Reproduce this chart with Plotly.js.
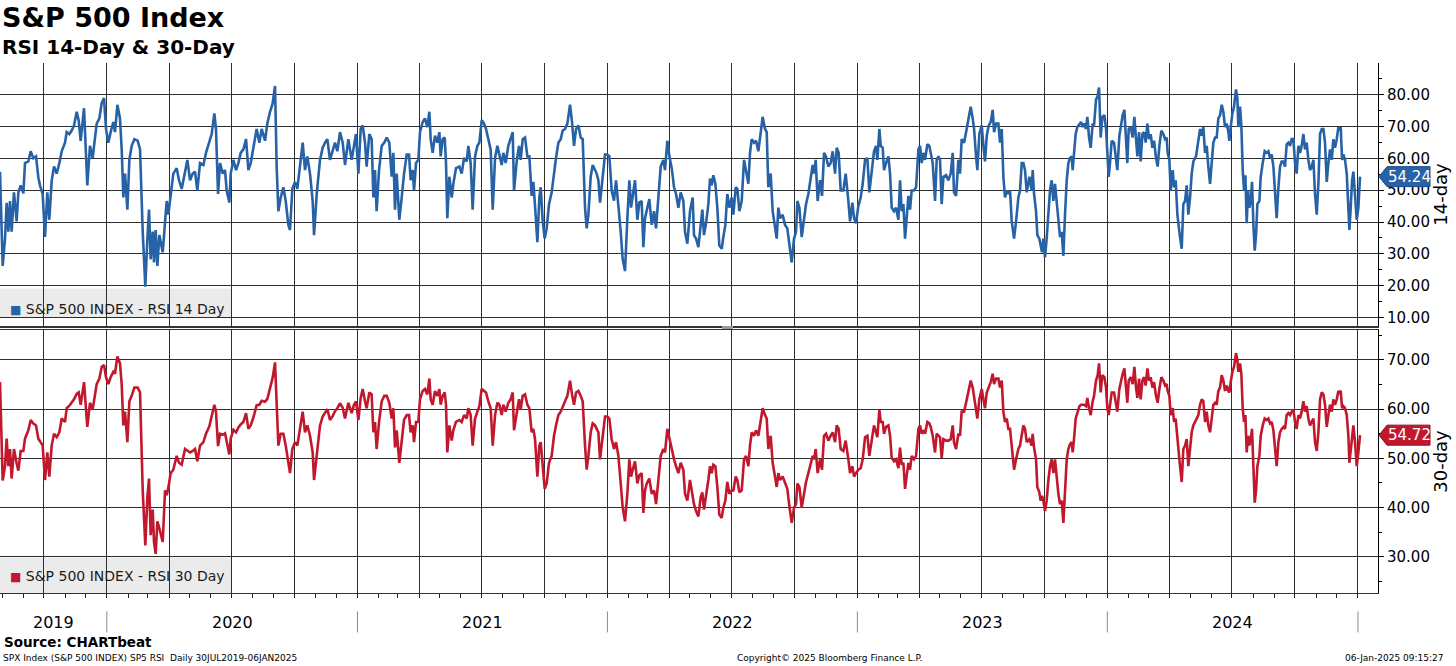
<!DOCTYPE html>
<html><head><meta charset="utf-8">
<script src="https://cdn.plot.ly/plotly-3.0.1.min.js"></script>
<style>html,body{margin:0;padding:0;background:#fff;}#chart{width:1456px;height:666px;}</style>
</head><body><div id="chart"></div>
<script>
// Reading dates, as days after 29 Jul 2019
const days = [
0,3.9,7.3,9.7,12.2,14.6,17,20.4,24.3,26.8,30.2,34.1,36.5,41.4,44.8,48.7,52.6,56,58.4,62.3,65.7,69.1,72,75.5,78.9,82.8,86.7,90.1,94.9,97.4,101.3,104.7,108.1,112,114.9,117.8,122.7,127.5,131.4,135.3,141.2,145.1,148.5,151.9,154.8,158.2,161.6,165.5,167.9,171.4,175.2,177.7,180.1,182.6,186,188.9,192.3,196.2,201,204.5,208.4,212.2,215.2,217.6,220,223,224.9,227.3,229.8,232.7,237.6,241,243.4,245.8,249.2,253.1,258,261.4,265.3,270.2,273.6,277.5,281.4,284.8,288.2,292.1,297,300.8,305.7,309.1,313,315.4,318.4,321.3,325.2,328.6,331,334.9,336.9,340.8,344.7,348.1,351.5,355.4,359.3,362.7,366.1,370,374.8,378.7,382.1,387,390.4,394.3,398.2,401.6,404,406.5,409.9,413.8,417.2,421.1,423.5,426.9,430.8,434.2,438.1,442,445.4,448.8,452.7,456.6,458.6,462.5,467.3,471.2,474.6,478,481.9,485.8,489.2,492.6,496.5,500.4,503.8,508.7,
513.5,516.9,519.9,523.3,526.7,529.6,533,535.4,539.3,542.7,545.2,547.6,550,553.5,557.4,561.2,564.7,568.5,572,574.4,576.8,579.3,583.1,586.6,590,593.9,597.3,599.7,602.6,604.6,607.5,610.9,613.3,617.2,620.6,624,627,628.9,631.8,635.2,638.6,641.6,643.5,646.4,649.4,651.3,653.2,656.2,659.6,662,665.9,670.8,674.2,677.6,681.5,683.9,687.3,690.2,693.7,697.1,700,703.4,706.8,709.7,713.1,716.5,719.5,722.9,726.3,729.2,732.6,735,738.4,742.3,745.7,748.7,750.6,754.5,757.9,760.3,763.3,766.7,770.1,773,776.4,778.8,781.3,784.7,787.6,789.6,792.5,795.4,798.3,801.7,805.6,809,811.9,815.4,818.8,821.7,825.1,828.5,832.4,835.3,838.2,841.2,844.6,848,850.9,854.3,856.7,859.2,862.6,865.5,868.9,871.3,873.8,876.2,880.1,883.5,886.9,889.8,893.2,896.6,899.6,903,906.4,909.3,912.7,916.1,919,921.5,923.9,927.3,930.7,933.6,937,939.5,941.9,944.4,948.2,951.7,955.1,958,961.4,964.8,968.7,971.1,974.5,977.5,980.9,984.3,987.2,990.6,994,997.9,1000.3,1003.7,1007.6,
1011.5,1013.4,1016.4,1019.8,1023.2,1025.6,1028,1031,1034.4,1036.8,1039.2,1041.7,1044.6,1047.5,1050.4,1053.9,1056.3,1059.2,1062.1,1065,1068.5,1070.9,1074.3,1076.7,1079.7,1083.1,1086.5,1089.4,1092.8,1095.2,1097.7,1101.1,1104,1107.4,1110.8,1113.7,1117.1,1119.6,1122,1125.4,1128.3,1131.7,1134.2,1136.6,1139,1142.9,1146.3,1149.7,1152.7,1156.1,1159.5,1162.4,1164.4,1167.3,1170.7,1174.1,1177,1180.4,1183.8,1186.7,1188.7,1191.1,1194,1197.5,1200.4,1203.3,1206.2,1209.6,1213,1216,1219.4,1221.8,1224.7,1227.6,1231.5,1234.9,1238.8,1241.3,1244.7,1247.1,1250,1253.4,1256.8,1259.8,1263.2,1266.6,1269.5,1272.9,1276.3,1279.2,1281.2,1284.1,1286.1,1289,1290.9,1293.8,1297.3,1299.7,1302.1,1305.5,1308.5,1311.9,1314.3,1316.7,1319.2,1321.6,1324,1326.5,1328.9,1331.3,1334.7,1337.7,1341.1,1343.5,1345.9,1348.4,1350.8,1354.2,1357.1,1359.1,1362,1365.4,1367.8,1370.3,1372.7,1375.1,1377.6,1381.5,1384.9,1388.3,1391.2,1393.1,1396.1,1399.5,1401.9,1404.3,1407.8,1410.7,1414.1,1417.5,1420.4,1422.4,1425.3,1427.2,1430.1,1433.6,1436,1438.4,1440.9,1443.8,1446.7,1449.6,1451.6,1454.5,1457.9,1460.3,1462.8,1465.2,1467.6,1470.1,1472.5,1474.9,1477.4,1480.8,1483.7,1487.1,1489.5,1492,1494.4,1496.8,1499.3,1503.2,
1506.5,1508,1510,1512.9,1514.8,1517.7,1519.7,1521.6,1523.6,1526,1528.4,1530.9,1533.3,1535.7,1538.2,1540.6,1543.1,1545.5,1547.9,1550.4,1552.8,1555.2,1557.7,1560.1,1562.5,1565,1566.4,1568.4,1570.8,1573.2,1576.2,1578.6,1581,1583,1585.9,1587.8,1590.3,1592.7,1595.6,1597.6,1600.5,1602.9,1604.9,1607.3,1609.7,1612.7,1615.1,1617,1619,1620.9,1623.4,1626.8,1629.7,1631.6,1634.6,1637,1639.4,1641.9,1644.3,1646.2,1648.2,1651.1,1654,1656.5,1658.9,1660.9,1663.3,1665.7,1668.2,1670.6,1673,1675.5,1677.9,1680.3,1682.8,1685.2,1688.1,1690.5,1693,1695.9,1698.8,1701.3,1703.7,1705.1,1707.6,1709.5,1712.5,1714.4,1716.8,1719.3,1722.2,1725.6,1728,1730.5,1732.9,1735.3,1737.8,1740.2,1742.6,1746.5,1749.9,1752.4,1754.8,1757.2,1759.7,1762.1,1764.5,1767,1769.4,1771.8,1774.3,1776.7,1779.1,1781.6,1784,1786.4,1788.9,1791.3,1793.8,1795.2,1797.2,1799.6,1802,1803.5,1804.9,1806.9,1808.3,1810.8,1812.7,1814.7,1816.6,1818.6,1820.5,1822.5,1824.4,1826.4,1828.3,1830.3,1832.2,1834.2,1836.1,1839,1841,1843.9,1846.8,1849.7,1852.2,1854.6,1857,1859.5,1861.9,1864.3,1866.8,1869.2,1871.6,1874.1,1876.5,1878.9,1881.4,1883.8,1886.2,1888.7,1891.1,1893.5,1896,1898.4,1900.8,1903.3,1905.7,1908.1,1910.6,1913,1915.5,1917.9,1920.3,1922.8,1925.2,1927.6,1930.1,1932.5,1934.9,1937.4,1939.8,1942.2,1944.7,1947.1,1949.5,1952,1954.4,1955.9,1957.8,1959.8,1961.7,1964.1,1966.6,1969,1970.5,1972.4,1974.4,1976.3,1978.7,1981.2,1983.6,1986
];
// RSI 14-day
const rsi14 = [
55.8,26.2,34.8,46,37,46.6,37,49.3,40.2,49.3,51.5,49,58.5,59,62.2,60,60.6,54,51.5,48.8,35.3,49.3,40.7,53,57.4,55.2,58.5,62.2,64.9,68.2,67.6,68.7,70.3,74.6,71.9,65.5,75.7,51.5,63.9,60.1,70.9,72.5,77.3,78.9,69.2,64.9,68.2,71.4,68.2,76.8,72.5,62.8,47.7,55.2,43.9,59.5,63.9,66,65.5,62.8,37,19.7,34.8,43.9,28.3,37,27.3,37.5,26.2,35.9,30.5,41.2,46.6,42.3,47.7,55.2,56.9,53.1,50.4,56.3,59.5,53.1,55.2,55.8,49.9,58.5,57.9,61.7,64.9,67.6,74.1,69.2,48.8,58.5,55.2,56.3,49.9,46.1,55.2,59.5,56.3,58.5,61.7,62.8,66,56.3,58.5,63.3,69.2,64.9,69.2,65.5,70.9,74.6,77.3,82.7,57.4,43.4,47.7,50.9,46.6,39.1,37.5,50.4,52.6,50.4,58.5,64.9,56.3,60.6,55.2,46.6,35.9,48.8,59.5,63.3,64.9,66,59.5,62.8,64.9,62.2,68.2,64.9,57.9,66,
59.5,63.9,67.6,55.2,69.2,70.3,64.9,57.4,67.6,66,47.7,56.3,43.4,56.3,63.9,64.9,66.5,64.9,54.2,61.7,43.9,55.2,40.7,47.7,55.2,61.2,61.2,53.1,56.3,49.9,58.5,59.5,68.2,71.4,72.5,69.8,74.6,66,61.7,67.1,64.9,68.2,60.6,66,66.5,58.5,41.2,54.2,47.7,52,56.9,57.4,55.2,60.1,59,63.9,58.5,43.9,60.6,63.9,64.9,71.9,70.9,69.2,65.5,62.8,43.9,60.1,63.9,61.2,57.9,61.7,58.5,63.9,66,68.2,49.9,59,63.9,59.5,66,66.5,60.6,60.6,48.2,52.6,45,33.7,47.7,50.9,40.2,34.8,38,45.6,49.3,56.3,60.1,64.9,66,68.7,69.2,70.9,76.8,71.4,63.9,69.2,70.3,66.5,66,44.5,38,42.3,54.2,57.9,56.3,55.2,53.1,46.1,54.2,61.2,61.2,60.6,49.9,46.7,53.1,45.6,36.9,28.3,24.6,41.2,53.1,44.5,48.2,53.1,40.7,46.1,46.6,32.1,41.2,43.4,47.2,39.1,43.4,38,47.7,57.4,59.5,56.3,65.5,60.6,56.9,50.9,48.8,44.5,49.3,46.6,36.9,33.2,43.4,
47.7,35.9,34.8,32.1,39.1,43.9,35.9,39.6,45.6,53.6,51.5,54.7,52,44.5,32.6,31.6,35.3,39.1,48.8,44.5,47.7,42.3,50.9,50.4,43.4,46.6,59.5,56.3,52,61.7,66,64.9,65.5,62.2,68.2,73,69.2,68.2,50.9,55.2,43.4,38.6,34.8,44.5,41.2,42.3,39.1,38,33.7,27.3,34.8,36.9,46.6,44.5,35.3,40.2,45.6,48.8,54.2,57.9,55.2,59.5,46.6,53.1,48.2,61.7,60.6,57.4,58.5,62.2,55.2,63.3,61.7,49.9,49.9,55.2,46.6,40.2,46.1,41.2,39.6,45,47.7,52,59.5,60.1,49.3,56.3,62.2,63.9,59.5,69.2,63.9,63.3,56.3,58.5,60.6,55.2,44.5,43.4,44.5,40.7,53.1,43.4,45.6,34.8,40.2,48.2,43.9,49.9,49.9,50.9,62.8,63.9,58.5,61.7,59.5,64.4,63.9,61.2,58.5,46.6,59.5,60.6,59.5,45.6,54.2,54.7,53.1,55.2,61.7,49.3,48.2,59.5,55.2,66,64.9,68.2,72.5,76.2,72.5,69.2,60.6,56.3,67.6,70.3,63.9,59,67.1,70.3,71.4,75.2,68.2,70.9,70.9,64.9,69.2,54.2,47.7,49.9,48.8,49.9,40.2,34.8,40.2,47.7,49.9,58.5,58.5,56.3,49.3,54.2,
49.9,56.3,48.8,43.4,35.9,34.8,32.6,30.5,34.8,28.9,34.8,41.2,49.9,53.1,46.6,52,45.6,39.1,35.3,36.9,29.4,42.3,53.1,58.5,60.1,60.6,56.3,61.7,67.6,69.8,70.9,71.4,69.8,70.9,69.2,73,66.5,63.3,70.9,70.3,78.4,79.5,82.2,66.5,73,73.5,69.2,59.5,54.2,58.5,65.5,64.9,59.5,56.3,67.1,70.9,73.5,75.2,66,58.5,69.2,69.8,66.5,73,66,60.6,68.2,59,67.6,68.2,64.9,70.9,66,67.6,63.3,65.5,60.1,57.4,63.9,68.7,67.6,66,66.5,61.7,59.5,49.9,56.3,50.9,53.1,42.3,36.9,31.6,45.6,46.6,51.5,42.3,47.7,55.2,59,60.6,65.5,69.2,67.1,69.8,61.7,63.9,57.4,52,58.5,64.9,66.5,66.5,72.5,73.5,76.8,74.6,69.8,70.9,68.2,65.5,69.8,74.1,76.2,78.9,81.6,78.9,69.8,76.2,70.3,56.3,49.9,54.7,39.6,49.9,44.5,46.6,52.6,39.1,31,35.9,45.6,46.6,54.2,58.5,62.2,61.7,62.2,60.1,61.2,57.4,47.7,41.2,50.9,57.4,59,59,57.4,64.4,64.9,63.9,66,66,58.5,55.2,63.9,61.7,63.9,67.6,62.8,64.9,59.5,56.3,57.4,59.5,48.8,42.3,52,67.6,69.2,69.2,64.9,52.6,58.5,62.8,59.5,66,63.3,66,69.8,68.7,69.8,59.5,61.2,59.5,55.2,45.6,37.5,44.5,53.1,55.8,47.7,40.7,44.5,54.24
];
// RSI 30-day
const rsi30 = [
65.5,45.5,48.4,54,48.4,51.9,45.9,51.9,49,47.5,51.5,51.5,54,55.7,57.8,57.1,56.7,54,53.5,52.6,45.6,51.2,46.3,52.6,55,54.3,55.3,58.1,57.4,60.2,60.7,61.3,62,63.1,63.4,60.9,65.5,56.4,61.3,59.9,65.1,66.2,68.6,69,66.5,65.1,66.5,67.6,67.2,70.7,69.3,65.1,56.7,59.5,53.3,61.6,62.7,64.4,64.4,63.4,43.5,32.3,42.1,45.9,34.4,39.6,33,30.6,37.2,35.8,33,43.5,42.5,44,47,47.7,50.5,49.1,48.7,51.9,51.5,51.2,51.5,51.9,49.4,52.6,53.3,55,56.5,58.3,60.9,59.5,52.5,55,54.8,55.1,53.5,50.8,54,55.8,55.3,56.3,56.9,57.4,59.2,56,56.7,58.3,60.8,60.9,61.7,61.5,62.1,64.2,66.4,69.5,59.5,52.6,55,55,52.6,49.1,47,51.9,53.3,52.6,56,59.5,55.3,56.7,54.6,51.2,45.6,50.5,56.7,58.5,59.3,60,57.8,58.6,59.6,60.2,61.2,60.3,58.1,61.3,
59.2,60.9,61.6,57.8,62.3,64.1,61.6,60.2,63.4,63,55.3,57.4,51.9,57.4,61.6,62.7,62.7,61.3,58.1,60.2,52.2,55.7,49.1,53.3,57.8,58.8,58.8,55.3,56.7,53.3,57.4,57.4,62,63.7,64.1,63,66.2,62,60.9,63.7,62.7,64.1,60.9,62.7,63.4,60.9,51.2,56.7,53.6,55.7,57.4,57.8,57.4,58.8,58.1,60.2,58.8,52.6,58.1,59.5,60.6,64.1,63.7,63.4,61.6,60.2,52.6,58.8,61.3,60.9,58.8,60.9,59.5,61.3,62,63.4,55.7,59.5,62,59.9,62.7,63,60.9,60.2,55.3,56,53.9,46.3,52.6,53.3,48,43.8,44.9,49.1,50.5,54.6,56.7,58.8,59.5,60.6,61.6,62.7,65.8,63,60.9,63.4,63.7,62.7,61.6,52.6,47.7,50.5,55.3,57.1,56.7,56,55.3,49.8,54.6,58.5,58.5,58.1,53.9,51.9,53.3,50.5,44.9,40,37.2,42.8,49.8,46.3,47.7,49.4,44.9,46.6,47,38.9,43.5,44.9,45.9,42.8,43.5,40.7,45.6,50.5,51.9,51.2,56,53.9,51.9,49.8,48.4,47,49.1,47.7,42.8,41.4,45.6,
42.1,40.7,39.3,38.2,42.1,43.1,39.6,42.1,45.6,48.4,47,48.7,48.4,44.2,38.6,37.9,40,41.4,45.2,42.8,43.5,43.5,46.3,45.6,43.1,43.5,49.8,50.5,48.4,52.6,55.3,54.6,55.7,54.6,57.4,60.2,58.8,58.1,51.9,54.6,49.1,45.9,44.2,47,45.6,46.3,44.9,43.8,40.3,36.9,40,40.7,44.9,44.2,40,42.8,45.2,47,49.1,50.5,49.8,51.9,47,49.8,47.7,54.6,55,53.6,54.6,55.3,53.3,56.7,56,51.9,51.5,53.6,49.8,47,48.4,46.3,47,47.7,48,49.8,54.3,54.6,50.5,53.9,56.7,55.3,54.3,59.9,57.4,57.4,55,56.4,56.7,54.6,50.1,49.4,49.8,48,52.2,48.7,49.1,43.8,46.3,49.1,47.7,50.5,49.8,50.5,56,56.7,55,55.7,55,57.4,57.1,56.4,54.6,51.2,55,54.6,54.3,50.1,53.9,53.6,53.6,53.9,56.7,53.3,51.9,55,54.6,59.5,59.5,61.3,63.7,65.8,64.4,62.7,60.2,58.1,62,64.1,62,60.2,63.4,64.4,65.5,67.2,65.1,66.2,66.2,64.4,65.8,59.5,57.4,58.1,56,56,51.9,47.7,49.8,51.9,52.6,55.3,56.7,56,53.3,53.9,
52.6,55,52.2,49.8,44.2,43.1,41.4,42.4,41.4,39.3,41.4,45.6,48.4,49.8,47,49.8,45.6,42.8,40.7,41.4,36.9,44.2,49.8,51.9,52.9,53.3,51.2,54,58.1,59.2,60.6,60.9,60.9,60.9,60.6,62.3,60.2,58.8,61.6,62.7,65.8,66.9,69.3,63.4,66.9,66.5,64.4,60.2,58.8,60.9,63.4,63.4,60.9,59.5,64.1,65.8,67.2,68.3,64.8,61.3,65.8,66.5,65.1,68.6,64.4,62.3,66.2,62,65.8,66.5,64.8,68.3,65.8,66.5,64.4,65.5,62.7,61.3,64.1,66.5,65.8,64.8,65.1,63.7,62.7,58.8,60.2,57.4,58.1,53.3,49.8,45.2,51.9,52.6,53.9,48.4,51.9,55.3,56.7,57.8,58.8,60.9,62,61.6,57.4,59.5,56.7,55.3,58.1,60.9,61.3,60.9,63.7,64.4,66.9,65.8,63.7,64.8,63.7,63.4,65.5,67.6,68.6,70,71.4,70,67.6,69.3,67.2,60.2,57.4,58.8,51.2,54.6,52.6,53.9,56,48.4,41,43.5,48.4,50.5,54.6,56.7,58.1,57.8,58.1,57.1,57.4,55.7,51.9,48.4,53.3,55.3,56,56.4,56,58.8,59.2,58.8,59.5,59.9,57.4,56,58.8,58.1,59.5,61.6,59.5,60.6,58.1,56.7,57.4,58.1,53.3,51.5,55.3,62,63.4,63,60.9,56.4,58.8,60.9,59.5,62,60.9,62,63.7,63.4,63.7,60.2,60.6,60.2,58.8,54.6,49.1,51.9,55.3,56.7,53.3,48.4,51.2,54.72
];
const seriesNames = ['S&amp;P 500 INDEX - RSI 14 Day', 'S&amp;P 500 INDEX - RSI 30 Day'];
const axisTitles = ['14-day', '30-day'];
const years = [2019, 2020, 2021, 2022, 2023, 2024];
const yearBreaks = ['2020-01-01', '2021-01-01', '2022-01-01', '2023-01-01', '2024-01-01', '2025-01-01'];
const xRange = ['2019-07-29', '2025-01-30 06:00'];
const titleText = 'S&amp;P 500 Index';
const subtitleText = 'RSI 14-Day &amp; 30-Day';
const sourceText = 'Source: CHARTbeat';
const infoText = 'SPX Index (S&amp;P 500 INDEX) SP5 RSI&#160;&#160;Daily 30JUL2019-06JAN2025';
const copyText = 'Copyright&#169; 2025 Bloomberg Finance L.P.';
const stampText = '06-Jan-2025 09:15:27';

const BLUE = '#2762a6', RED = '#c1182e', GRID = '#2e2e2e', FONT = 'DejaVu Sans, Verdana, sans-serif';
const W = 1456, H = 666, ML = 0, MR = 78, MT = 62.5, MB = 72.5;
const PW = W - ML - MR, PH = H - MT - MB;
const py = p => (H - MB - p) / PH;   // page pixel row -> paper y
const pxx = p => (p - ML) / PW;      // page pixel column -> paper x

const t0 = Date.UTC(2019, 6, 29);
const dates = days.map(d => new Date(t0 + d * 86400000).toISOString().slice(0, 19).replace('T', ' '));

const traces = [
  {x: dates, y: rsi14, xaxis: 'x', yaxis: 'y', type: 'scatter', mode: 'lines', name: 'RSI 14 Day',
   line: {color: BLUE, width: 2.6}, hoverinfo: 'skip'},
  {x: dates, y: rsi30, xaxis: 'x2', yaxis: 'y2', type: 'scatter', mode: 'lines', name: 'RSI 30 Day',
   line: {color: RED, width: 2.6}, hoverinfo: 'skip'}
];

const xCommon = {
  type: 'date', range: xRange, domain: [0, 1], showgrid: true, gridcolor: GRID, gridwidth: 1,
  dtick: 'M3', tick0: '2019-01-01', showticklabels: false, zeroline: false, fixedrange: true
};
const yCommon = {
  side: 'right', dtick: 10, tick0: 0, tickformat: '.2f', showgrid: true, gridcolor: GRID, gridwidth: 1,
  zeroline: false, ticks: 'outside', ticklen: 5, tickcolor: '#000', tickwidth: 1,
  showline: true, linecolor: '#000', linewidth: 1,
  minor: {dtick: 5, tick0: 0, ticks: 'outside', ticklen: 3, tickcolor: '#000', showgrid: false},
  tickfont: {family: FONT, size: 15, color: '#000'}, fixedrange: true
};

const last14 = rsi14[rsi14.length - 1], last30 = rsi30[rsi30.length - 1];

const shapes = [
  // legend backgrounds
  {type: 'rect', xref: 'paper', yref: 'paper', x0: 0, x1: pxx(231), y0: py(318), y1: py(288.5),
   fillcolor: '#ebebeb', line: {width: 0}, layer: 'below'},
  {type: 'rect', xref: 'paper', yref: 'paper', x0: 0, x1: pxx(231), y0: 0, y1: py(558),
   fillcolor: '#ebebeb', line: {width: 0}, layer: 'below'},
  // splitter handle
  {type: 'rect', xref: 'paper', yref: 'paper', x0: pxx(722), x1: pxx(733), y0: py(329), y1: py(326),
   fillcolor: '#9a9a9a', line: {width: 0}, layer: 'above'},
  // last value tags
  {type: 'path', xref: 'paper', yref: 'y', xsizemode: 'pixel', ysizemode: 'pixel', xanchor: 1, yanchor: last14,
   path: 'M 1 0 L 9 10 L 52 10 L 52 -10 L 9 -10 Z', fillcolor: BLUE, line: {color: '#1a4d8a', width: 1}, layer: 'above'},
  {type: 'path', xref: 'paper', yref: 'y2', xsizemode: 'pixel', ysizemode: 'pixel', xanchor: 1, yanchor: last30,
   path: 'M 1 0 L 9 10 L 52 10 L 52 -10 L 9 -10 Z', fillcolor: RED, line: {color: '#8e0f20', width: 1}, layer: 'above'}
];
yearBreaks.forEach(d => shapes.push({type: 'line', xref: 'x2', yref: 'paper', x0: d, x1: d,
  y0: py(612), y1: py(633), line: {color: '#8c8c8c', width: 1}}));

const rs = Date.parse(xRange[0] + 'T00:00:00Z'), re = Date.parse(xRange[1].replace(' ', 'T') + ':00Z');
const annotations = [
  {xref: 'paper', yref: 'paper', x: 0, y: py(46), xanchor: 'left', yanchor: 'middle', showarrow: false,
   text: subtitleText, font: {family: FONT, size: 20, weight: 'bold', color: '#000'}},
  {xref: 'paper', yref: 'paper', x: 0, y: py(308.5), xshift: 8, xanchor: 'left', yanchor: 'middle', showarrow: false,
   text: '<span style="color:' + BLUE + ';font-size:12px">&#9632;</span> ' + seriesNames[0],
   font: {family: FONT, size: 14, color: '#1a1a1a'}},
  {xref: 'paper', yref: 'paper', x: 0, y: py(576), xshift: 8, xanchor: 'left', yanchor: 'middle', showarrow: false,
   text: '<span style="color:' + RED + ';font-size:12px">&#9632;</span> ' + seriesNames[1],
   font: {family: FONT, size: 14, color: '#1a1a1a'}},
  {xref: 'paper', yref: 'y', x: 1, y: last14, xanchor: 'left', yanchor: 'middle', xshift: 8, showarrow: false,
   text: last14.toFixed(2), font: {family: FONT, size: 15, color: '#fff'}},
  {xref: 'paper', yref: 'y2', x: 1, y: last30, xanchor: 'left', yanchor: 'middle', xshift: 8, showarrow: false,
   text: last30.toFixed(2), font: {family: FONT, size: 15, color: '#fff'}},
  {xref: 'paper', yref: 'paper', x: pxx(2), y: py(643), xanchor: 'left', yanchor: 'middle', showarrow: false,
   text: sourceText, font: {family: FONT, size: 13.5, weight: 'bold', color: '#000'}},
  {xref: 'paper', yref: 'paper', x: pxx(1), y: py(659), xanchor: 'left', yanchor: 'middle', showarrow: false,
   text: infoText, font: {family: FONT, size: 9, color: '#000'}},
  {xref: 'paper', yref: 'paper', x: pxx(829), y: py(659), xanchor: 'center', yanchor: 'middle', showarrow: false,
   text: copyText, font: {family: FONT, size: 9, color: '#000'}},
  {xref: 'paper', yref: 'paper', x: pxx(1446), y: py(659), xanchor: 'right', yanchor: 'middle', showarrow: false,
   text: stampText, font: {family: FONT, size: 9, color: '#000'}}
];
years.forEach(yr => {
  const a = Math.max(Date.UTC(yr, 0, 1), rs), b = Math.min(Date.UTC(yr + 1, 0, 1), re);
  annotations.push({xref: 'x2', yref: 'paper', x: new Date((a + b) / 2).toISOString().slice(0, 10), y: py(623),
    xanchor: 'center', yanchor: 'middle', showarrow: false, text: String(yr),
    font: {family: FONT, size: 16, color: '#000'}});
});

const layout = {
  width: W, height: H, margin: {l: ML, r: MR, t: MT, b: MB, pad: 0},
  paper_bgcolor: '#ffffff', plot_bgcolor: 'rgba(0,0,0,0)', showlegend: false,
  font: {family: FONT, color: '#000'},
  title: {text: titleText, xref: 'container', yref: 'container', x: 2 / W, xanchor: 'left',
          y: 1 - 18 / H, yanchor: 'middle', font: {family: FONT, size: 27, weight: 'bold', color: '#000'}},
  xaxis: Object.assign({}, xCommon, {anchor: 'y', ticks: '', showline: true, linecolor: '#333', linewidth: 2}),
  xaxis2: Object.assign({}, xCommon, {anchor: 'y2', ticks: 'outside', ticklen: 4, tickcolor: '#222',
    showline: true, linecolor: '#333', linewidth: 1, mirror: true,
    minor: {dtick: 'M1', tick0: '2019-01-01', ticks: 'outside', ticklen: 4, tickcolor: '#222', showgrid: false}}),
  yaxis: Object.assign({}, yCommon, {anchor: 'x', domain: [py(326), 1], range: [7.37, 89.9],
    title: {text: axisTitles[0], font: {family: FONT, size: 18, color: '#000'}, standoff: 4}}),
  yaxis2: Object.assign({}, yCommon, {anchor: 'x2', domain: [0, py(330)], range: [22.64, 76.09],
    title: {text: axisTitles[1], font: {family: FONT, size: 18, color: '#000'}, standoff: 4}}),
  shapes: shapes, annotations: annotations
};

Plotly.newPlot('chart', traces, layout, {staticPlot: true, displayModeBar: false});
</script>
</body></html>
